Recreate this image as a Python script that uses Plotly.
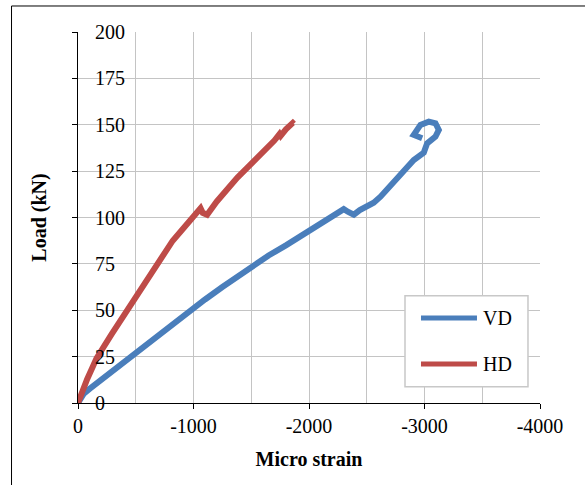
import plotly.graph_objects as go

# Load-strain readings for the two gauges
vd_strain = [0, -20, -50, -100, -200, -330, -469, -600, -750, -880, -974, -1100,
             -1250, -1400, -1537, -1650, -1800, -1930, -2050, -2203, -2301,
             -2340, -2388, -2440, -2504, -2560, -2619, -2700, -2792, -2907, -2994,
             -3023, -3095, -3124, -3095, -3037, -2965, -2922, -2907, -2980]
vd_load = [0, 2.5, 5, 7.6, 12.5, 18.9, 25.5, 32, 39.3, 45.5, 50, 55.8,
           62.5, 69, 75, 79.5, 85, 90, 94.5, 100, 104.5,
           103, 101.5, 104, 106, 108, 111.2, 117, 123.5, 131, 135,
           140, 143.6, 147.2, 150.8, 151.7, 149.9, 146.8, 144.5, 142.7]

hd_strain = [0, -40, -80, -120, -160, -290, -426, -550, -685, -743, -820, -900,
             -1000, -1061, -1080, -1118, -1200, -1280, -1380, -1460, -1550,
             -1625, -1700, -1745, -1755, -1800, -1830, -1860, -1868]
hd_load = [0, 7, 13, 18.5, 24, 37, 50, 62.5, 75, 80.5, 87.5, 93.3,
           100.5, 105, 102.5, 101.5, 108.5, 114.5, 121.5, 126.5, 132,
           136.5, 141.5, 145, 144, 147.5, 149.5, 151, 150.5]

series_names = ["VD", "HD"]
series_colors = ["#4A7EBB", "#BE4B48"]

x_tick_vals = [0, -1000, -2000, -3000, -4000]
x_tick_text = ["0", "-1000", "-2000", "-3000", "-4000"]
y_tick_vals = [0, 25, 50, 75, 100, 125, 150, 175, 200]

FONT = "Liberation Serif, Times New Roman, serif"
GRID = "#c4c4c4"

fig = go.Figure()
for xs, ys, name, color in [(vd_strain, vd_load, series_names[0], series_colors[0]),
                            (hd_strain, hd_load, series_names[1], series_colors[1])]:
    fig.add_trace(go.Scatter(x=xs, y=ys, mode="lines", name=name,
                             line=dict(color=color, width=6), showlegend=False))

fig.update_xaxes(
    range=[0, -4000], autorange=False,
    tickmode="array", tickvals=x_tick_vals, ticktext=x_tick_text,
    ticks="outside", ticklen=5, tickcolor="black", tickwidth=1,
    showline=True, linecolor="black", linewidth=1,
    showgrid=True, gridcolor=GRID, gridwidth=1.3,
    minor=dict(dtick=500, showgrid=True, gridcolor=GRID, gridwidth=1.3, ticks=""),
    zeroline=False,
    tickfont=dict(family=FONT, size=20, color="black"),
    title=dict(text="<b>Micro strain</b>", font=dict(family=FONT, size=20, color="black"),
               standoff=15),
)
fig.update_yaxes(
    range=[0, 200], autorange=False,
    tickmode="array", tickvals=y_tick_vals,
    ticks="outside", ticklen=5, tickcolor="black", tickwidth=1,
    ticklabelposition="inside", ticklabeloverflow="allow", ticklabelstandoff=18,
    showline=True, linecolor="black", linewidth=1,
    showgrid=True, gridcolor=GRID, gridwidth=1.3,
    zeroline=False,
    tickfont=dict(family=FONT, size=20, color="black"),
    title=dict(text="<b>Load (kN)</b>", font=dict(family=FONT, size=20, color="black"),
               standoff=43),
)

# Outer frame and legend box drawn in paper coordinates
shapes = [
    dict(type="rect", xref="paper", yref="paper", x0=-0.1439, x1=1.3, y0=-0.4, y1=1.0701,
         line=dict(color="black", width=1), fillcolor="rgba(0,0,0,0)", layer="above"),
    dict(type="rect", xref="paper", yref="paper", x0=0.7078, x1=0.974, y0=0.0439, y1=0.2892,
         line=dict(color="#c8c8c8", width=1.5), fillcolor="white", layer="above"),
]
annotations = []
for yv, name, color in [(0.2291, series_names[0], series_colors[0]),
                        (0.1051, series_names[1], series_colors[1])]:
    shapes.append(dict(type="line", xref="paper", yref="paper", x0=0.7424, x1=0.8636,
                       y0=yv, y1=yv, line=dict(color=color, width=5), layer="above"))
    annotations.append(dict(xref="paper", yref="paper", x=0.8723, y=yv, text=name,
                            showarrow=False, xanchor="left", yanchor="middle",
                            font=dict(family=FONT, size=20, color="black")))

fig.update_layout(
    width=585, height=485,
    margin=dict(l=78, r=45, t=32, b=82),
    paper_bgcolor="white", plot_bgcolor="white",
    shapes=shapes, annotations=annotations,
    showlegend=False,
)

fig.write_html("out.html")
